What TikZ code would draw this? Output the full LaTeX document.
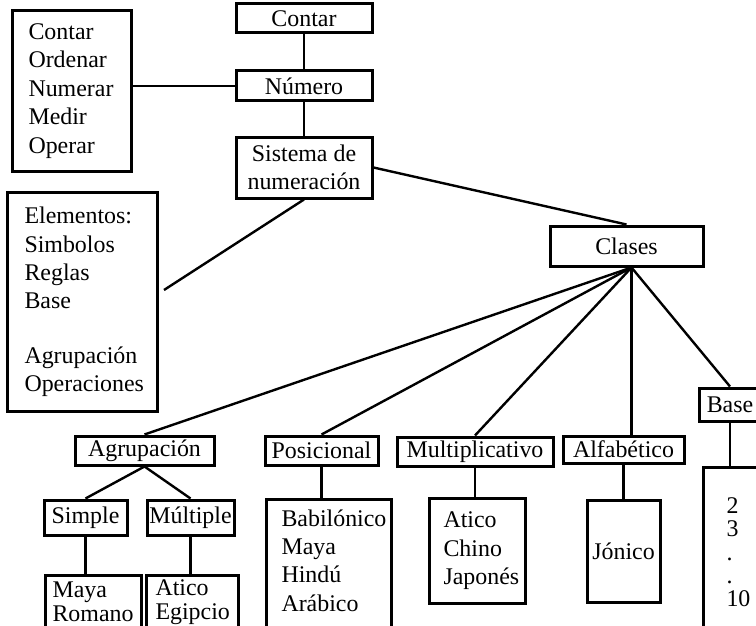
\documentclass[tikz,border=0pt]{standalone}
\usepackage{fontspec}
\setmainfont{Liberation Serif}
\usetikzlibrary{positioning}
\hyphenpenalty=10000
\tikzset{box/.style={draw,line width=3bp,inner sep=0pt,align=center,
                     font=\fontsize{24}{28.5}\selectfont},
         listbox/.style={box,align=left,anchor=north west},
         openbox/.style={listbox,text depth=#1},
         openbox/.default=80bp,
         line/.style={line width=2.4bp}
}

\begin{document}
\begin{tikzpicture}[x=1bp,y=-1bp]
\useasboundingbox (0,0) rectangle (756,626);

\node[box,minimum width=136bp,minimum height=29bp] (contar) at (304,18.5) {Contar};
\node[box,minimum width=136bp,minimum height=30bp,below=35bp of contar] (numero) {Número};
\node[box,minimum width=136bp,minimum height=61bp,below=33bp of numero] (sistema) {Sistema de\\numeración};
\node[listbox,minimum height=161bp,text width=87bp,inner xsep=16bp] (usos) at (11,9) {Contar\\Ordenar\\Numerar\\Medir\\Operar};
\node[listbox,minimum height=219bp,text width=116bp,inner xsep=17bp] (elementos) at (6,191) {Elementos:\\Simbolos\\Reglas\\Base\\[26bp]Agrupación\\Operaciones};
\node[box,minimum width=153bp,minimum height=40bp] (clases) at (626.5,246) {Clases};

\node[box,minimum width=139bp,minimum height=29bp] (agrup) at (144.5,450.5) {Agrupación};
\node[box,minimum width=113bp,minimum height=29bp] (posic) at (321.5,450.5) {Posicional};
\node[box,minimum width=156bp,minimum height=29bp] (multi) at (475,451.5) {Multiplicativo};
\node[box,minimum width=121bp,minimum height=27bp] (alfa) at (623.5,449.5) {Alfabético};
\node[box,minimum width=62bp,minimum height=33bp] (base) at (730,404.5) {Base};
\node[box,minimum width=83bp,minimum height=35bp] (simple) at (85.5,517.5) {Simple};
\node[box,minimum width=87bp,minimum height=35bp] (multiple) at (190.5,517.5) {Múltiple};

\node[openbox=60bp,text width=82bp,inner xsep=7bp,inner ysep=6bp,font=\fontsize{24}{24.5}\selectfont] (mayarom) at (44,574) {Maya\\Romano};
\node[openbox=60bp,text width=74bp,inner xsep=9bp,inner ysep=4bp,font=\fontsize{24}{24.5}\selectfont] (aticoeg) at (145,574) {Atico\\Egipcio};
\node[openbox=120bp,text width=95bp,inner xsep=15bp,inner ysep=10bp] (poslist) at (265,498) {Babilónico\\Maya\\Hindú\\Arábico};
\node[listbox,minimum height=105bp,text width=68bp,inner xsep=14bp] (multlist) at (428,497) {Atico\\Chino\\Japonés};
\node[box,minimum width=73bp,minimum height=102bp] (jonico) at (623.5,551) {Jónico};
\node[openbox=150bp,text width=40bp,inner xsep=23bp,inner ysep=30bp,font=\fontsize{24}{23.5}\selectfont] (baselist) at (702,466) {2\\3\\.\\.\\10};

\coordinate (elemfin) at (164,290);
\coordinate (hub) at ([xshift=5bp]clases.south);
\draw[line] (contar)--(numero);
\draw[line] (numero)--(sistema);
\draw[line] (numero.west)--(numero.west -| usos.east);
\draw[line] (sistema.south)--(elemfin);
\draw[line] (sistema.east)--(clases.north);
\foreach \n in {agrup,posic,multi,base}
  \draw[line] (hub)--(\n.north);
\draw[line] (hub)--(hub |- alfa.north);
\draw[line] (agrup.south)--(simple.north);
\draw[line] (agrup.south)--(multiple.north);
\draw[line] (simple.south)--(simple.south |- mayarom.north);
\draw[line] (multiple.south)--(multiple.south |- aticoeg.north);
\draw[line] (posic.south)--(posic.south |- poslist.north);
\draw[line] (multi.south)--(multi.south |- multlist.north);
\draw[line] (alfa.south)--(alfa.south |- jonico.north);
\draw[line] (base.south)--(base.south |- baselist.north);

\end{tikzpicture}
\end{document}
